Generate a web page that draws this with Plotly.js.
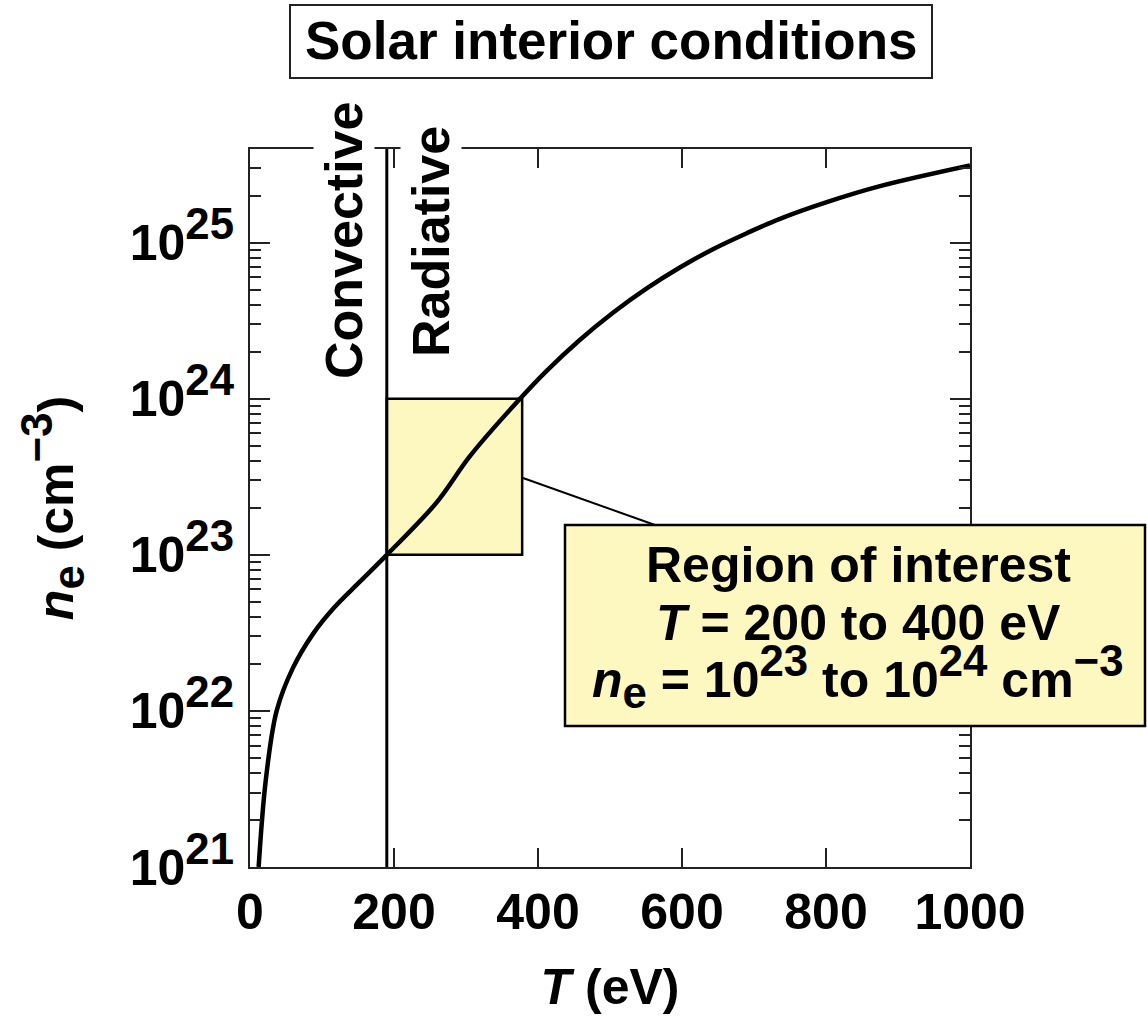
<!DOCTYPE html>
<html>
<head>
<meta charset="utf-8">
<script src="https://cdn.plot.ly/plotly-3.0.1.min.js"></script>
<style>html,body{margin:0;padding:0;background:#fff;}#chart{width:1147px;height:1020px;}</style>
</head>
<body>
<div id="chart"></div>
<script>
// ---- data ----
const T_eV = [12, 22, 37, 59, 88, 116, 153, 190, 259, 306, 375, 412, 458, 505, 551, 597, 643, 690, 736, 800, 875, 1000];
const ne_cm3 = [1.0e21, 3.63e21, 1.0e22, 1.86e22, 3.14e22, 4.55e22, 6.76e22, 1.0e23, 2.16e23, 4.32e23, 1.0e24, 1.51e24, 2.38e24, 3.58e24, 5.09e24, 6.93e24, 9.08e24, 1.15e25, 1.42e25, 1.81e25, 2.30e25, 3.12e25];
const boundaryT = [190, 190];
const boundaryNe = [1e21, 1e26];
const regionT = [190, 378, 378, 190, 190];
const regionNe = [1e23, 1e23, 1e24, 1e24, 1e23];
const xTickVals = [0, 200, 400, 600, 800, 1000];
const yExponents = [21, 22, 23, 24, 25];
const yTickVals = yExponents.map(e => Math.pow(10, e));
const yTickText = yExponents.map(e => '10<sup><span style="font-size:125%">' + e + '</span></sup>');

const FONT = 'Liberation Sans, Arial, Helvetica, sans-serif';
const INK = '#000';
const AX = '#222';
const FILL = '#fdf7c0';

// pixel -> paper helpers (plot area: x 250..970, y 149..867)
const L = 250, R = 970, TOP = 149, BOT = 867;
const px = x => (x - L) / (R - L);
const py = y => (BOT - y) / (BOT - TOP);

const traces = [
  {x: regionT, y: regionNe, type: 'scatter', mode: 'lines', fill: 'toself', fillcolor: FILL,
   line: {color: INK, width: 2.5}, hoverinfo: 'skip', showlegend: false},
  {x: boundaryT, y: boundaryNe, type: 'scatter', mode: 'lines',
   line: {color: INK, width: 3}, hoverinfo: 'skip', showlegend: false},
  {x: T_eV, y: ne_cm3, type: 'scatter', mode: 'lines',
   line: {color: INK, width: 4.5, shape: 'spline', smoothing: 1}, showlegend: false}
];

const sub = s => '<sub><span style="font-size:125%">' + s + '</span></sub>';
const sup = s => '<sup><span style="font-size:125%">' + s + '</span></sup>';

const layout = {
  width: 1147, height: 1020,
  margin: {l: L, r: 1147 - R, t: TOP, b: 1020 - BOT, pad: 0},
  paper_bgcolor: '#fff', plot_bgcolor: '#fff',
  showlegend: false,
  font: {family: FONT, color: INK, size: 50, weight: 700},
  xaxis: {
    range: [0, 1000], tickmode: 'array', tickvals: xTickVals,
    ticks: 'inside', ticklen: 19, tickwidth: 2, tickcolor: AX,
    showline: true, linewidth: 2, linecolor: AX, mirror: 'ticks',
    showgrid: false, zeroline: false,
    tickfont: {family: FONT, size: 50, weight: 700, color: INK},
    ticklabelstandoff: 0,
    title: {text: '<i>T</i> (eV)', font: {family: FONT, size: 50, weight: 700, color: INK}, standoff: 30}
  },
  yaxis: {
    type: 'log', range: [21, 25.6], tickmode: 'array', tickvals: yTickVals, ticktext: yTickText,
    ticks: 'inside', ticklen: 20, tickwidth: 2, tickcolor: AX,
    minor: {ticks: 'inside', ticklen: 11, tickwidth: 2, tickcolor: AX, dtick: 'D1', showgrid: false},
    showline: true, linewidth: 2, linecolor: AX, mirror: 'ticks',
    showgrid: false, zeroline: false,
    tickfont: {family: FONT, size: 50, weight: 700, color: INK},
    ticklabelstandoff: 4,
    title: {text: '<i>n</i>' + sub('e') + ' (cm' + sup('\u22123') + ')', font: {family: FONT, size: 50, weight: 700, color: INK}, standoff: 40}
  },
  shapes: [
    // title frame
    {type: 'rect', xref: 'paper', yref: 'paper', x0: px(290), x1: px(932), y0: py(78), y1: py(5),
     line: {color: AX, width: 2}, fillcolor: 'rgba(0,0,0,0)', layer: 'above'},
    // leader line
    {type: 'line', xref: 'paper', yref: 'paper', x0: px(523), y0: py(478), x1: px(655), y1: py(525),
     line: {color: INK, width: 2}, layer: 'above'},
    // region-of-interest callout box
    {type: 'rect', xref: 'paper', yref: 'paper', x0: px(565), x1: px(1145), y0: py(726), y1: py(525),
     line: {color: INK, width: 2.5}, fillcolor: FILL, layer: 'above'}
  ],
  annotations: [
    {text: 'Solar interior conditions', xref: 'paper', yref: 'paper', x: px(611), y: py(40),
     xanchor: 'center', yanchor: 'middle', showarrow: false,
     font: {family: FONT, size: 53, weight: 700, color: INK}},
    {text: 'Convective', xref: 'paper', yref: 'paper', x: px(344), y: py(241), textangle: -90,
     xanchor: 'center', yanchor: 'middle', showarrow: false, bgcolor: '#fff', borderpad: 1,
     font: {family: FONT, size: 52, weight: 700, color: INK}},
    {text: 'Radiative', xref: 'paper', yref: 'paper', x: px(431), y: py(242), textangle: -90,
     xanchor: 'center', yanchor: 'middle', showarrow: false, bgcolor: '#fff', borderpad: 1,
     font: {family: FONT, size: 52, weight: 700, color: INK}},
    {text: 'Region of interest', xref: 'paper', yref: 'paper', x: px(858), y: py(565),
     xanchor: 'center', yanchor: 'middle', showarrow: false,
     font: {family: FONT, size: 50, weight: 700, color: INK}},
    {text: '<i>T</i> = 200 to 400 eV', xref: 'paper', yref: 'paper', x: px(858), y: py(623),
     xanchor: 'center', yanchor: 'middle', showarrow: false,
     font: {family: FONT, size: 50, weight: 700, color: INK}},
    {text: '<i>n</i>' + sub('e') + ' = 10' + sup('23') + ' to 10' + sup('24') + ' cm' + sup('\u22123'),
     xref: 'paper', yref: 'paper', x: px(858), y: py(676),
     xanchor: 'center', yanchor: 'middle', showarrow: false,
     font: {family: FONT, size: 50, weight: 700, color: INK}}
  ]
};

Plotly.newPlot('chart', traces, layout, {displayModeBar: false, staticPlot: true});
</script>
</body>
</html>
